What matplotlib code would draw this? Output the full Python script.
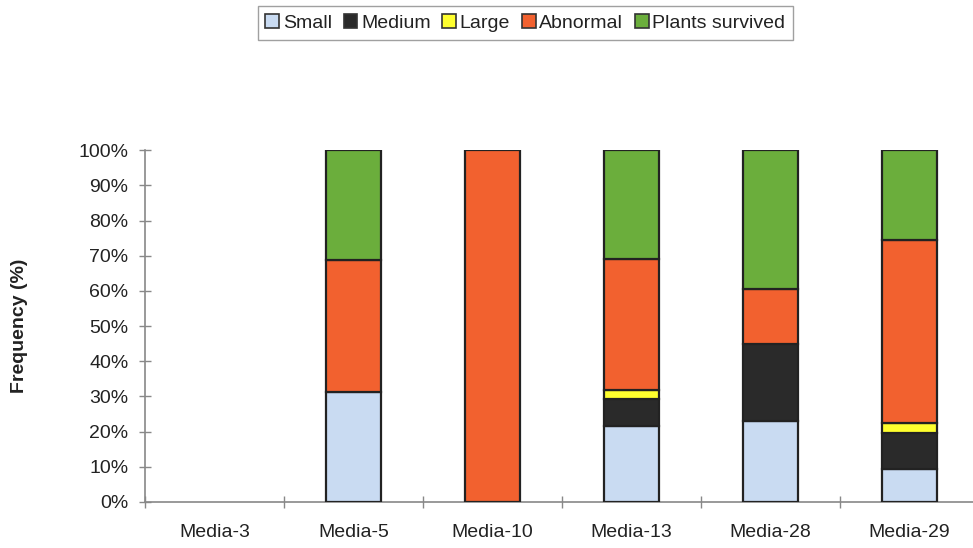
import matplotlib
matplotlib.use("Agg")
import matplotlib.pyplot as plt
import numpy as np

plt.rcParams['font.family'] = ['Liberation Sans', 'DejaVu Sans']

categories = ["Media-3", "Media-5", "Media-10", "Media-13", "Media-28", "Media-29"]
series_names = ["Small", "Medium", "Large", "Abnormal", "Plants survived"]
small = [0, 31.25, 0, 21.6, 23.0, 9.3]
medium = [0, 0, 0, 7.6, 22.0, 10.2]
large = [0, 0, 0, 2.6, 0, 2.9]
abnormal = [0, 37.5, 100, 37.4, 15.5, 52.2]
survived = [0, 31.25, 0, 30.8, 39.5, 25.4]
y_ticks = [0, 10, 20, 30, 40, 50, 60, 70, 80, 90, 100]

colors = ["#C9DBF2", "#2A2A2A", "#FFFF2E", "#F2612F", "#6BAE3C"]
series = [small, medium, large, abnormal, survived]

fig = plt.figure(figsize=(9.73, 5.48), dpi=100)
ax = fig.add_axes([0.149, 0.084, 0.857, 0.642])

x = np.arange(len(categories))
bottom = np.zeros(len(categories))
handles = []
for name, vals, col in zip(series_names, series, colors):
    vals = np.array(vals, dtype=float)
    mask = vals > 0
    ax.bar(x[mask], vals[mask], width=0.4, bottom=bottom[mask], color=col,
           edgecolor="#222222", linewidth=1.6, zorder=3)
    handles.append(plt.Rectangle((0, 0), 1, 1, facecolor=col, edgecolor="#333333", linewidth=1.2))
    bottom += vals

ax.set_xlim(-0.5, len(categories) - 0.5)
ax.set_ylim(0, 100)
ax.set_yticks(y_ticks)
ax.set_yticklabels([f"{t}%" for t in y_ticks])
ax.set_xticks(x)
ax.set_xticklabels(categories)
ax.set_xticks(np.arange(-0.5, len(categories) - 0.4, 1.0), minor=True)
ax.tick_params(axis='x', which='major', length=0, pad=16, labelsize=14, labelcolor="#222222")
ax.tick_params(axis='x', which='minor', length=8, direction='inout', color="#888888", width=1)
ax.tick_params(axis='y', length=8, direction='inout', color="#888888", width=1,
               labelsize=14, labelcolor="#222222", pad=8)

for side in ["top", "right"]:
    ax.spines[side].set_visible(False)
for side in ["left", "bottom"]:
    ax.spines[side].set_color("#888888")
    ax.spines[side].set_linewidth(1.2)

ax.set_ylabel("Frequency (%)", fontsize=14, fontweight="bold", color="#222222", labelpad=36)

leg = fig.legend(handles, series_names, loc="center", bbox_to_anchor=(0.54, 0.958),
                 ncol=5, fontsize=14, frameon=True, fancybox=False,
                 handlelength=0.7, handleheight=0.7, handletextpad=0.2,
                 columnspacing=0.6, borderpad=0.4, borderaxespad=0)
leg.get_frame().set_edgecolor("#888888")
leg.get_frame().set_linewidth(1.0)
for t in leg.get_texts():
    t.set_color("#222222")

fig.savefig("out.png", dpi=100)
